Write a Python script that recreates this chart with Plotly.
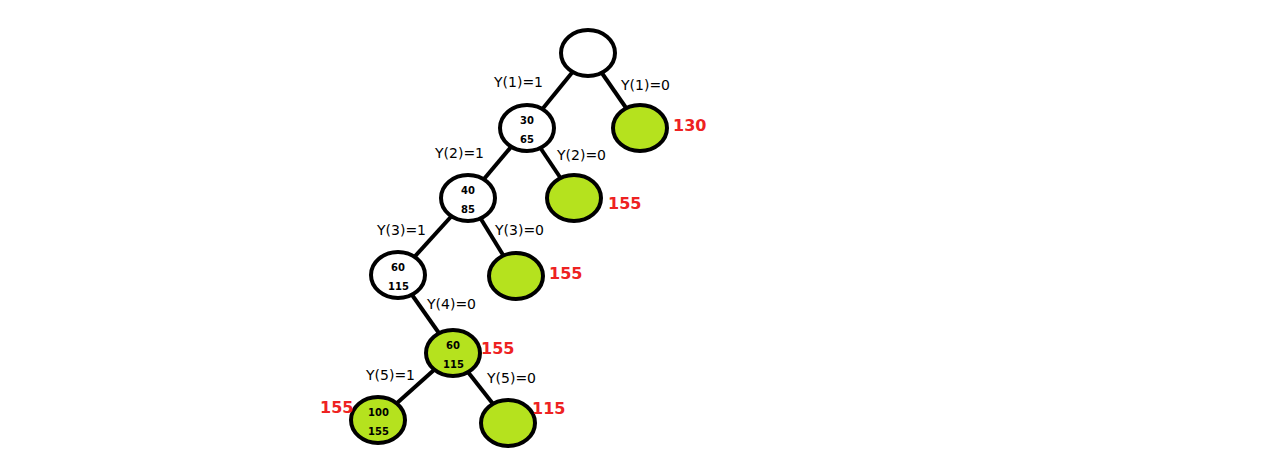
import plotly.graph_objects as go

# node centres (pixel-like coordinates), fill, inner labels
node_x = [580, 519, 632, 460, 566, 390, 508, 445, 370, 500]
node_y = [45, 120, 120, 190, 190, 267, 268, 345, 412, 415]
node_green = [False, False, True, False, True, False, True, True, True, True]
node_top = ["", "30", "", "40", "", "60", "", "60", "100", ""]
node_bot = ["", "65", "", "85", "", "115", "", "115", "155", ""]

edges = [(0, 1), (0, 2), (1, 3), (1, 4), (3, 5), (3, 6), (5, 7), (7, 8), (7, 9)]

edge_text = ["Y(1)=1", "Y(1)=0", "Y(2)=1", "Y(2)=0", "Y(3)=1", "Y(3)=0", "Y(4)=0", "Y(5)=1", "Y(5)=0"]
edge_tx = [510, 637, 451, 573, 393, 511, 443, 382, 503]
edge_ty = [74, 77, 145, 147, 222, 222, 296, 367, 370]

value_text = ["130", "155", "155", "155", "155", "115"]
value_x = [681, 616, 557, 489, 328, 540]
value_y = [117, 195, 265, 340, 399, 400]

RX, RY = 27, 23
GREEN = "#b5e21e"

fig = go.Figure()
shapes = []
for a, b in edges:
    shapes.append(dict(type="line", x0=node_x[a], y0=node_y[a], x1=node_x[b], y1=node_y[b],
                       line=dict(color="black", width=4), layer="above"))
for x, y, g in zip(node_x, node_y, node_green):
    shapes.append(dict(type="circle", x0=x - RX, x1=x + RX, y0=y - RY, y1=y + RY,
                       fillcolor=GREEN if g else "white", line=dict(color="black", width=4),
                       layer="above"))

ann = []
for x, y, t, b in zip(node_x, node_y, node_top, node_bot):
    if t:
        ann.append(dict(x=x, y=y - 8, text="<b>" + t + "</b>", showarrow=False,
                        font=dict(size=10, color="black", family="DejaVu Sans")))
        ann.append(dict(x=x, y=y + 11, text="<b>" + b + "</b>", showarrow=False,
                        font=dict(size=10, color="black", family="DejaVu Sans")))
for t, x, y in zip(edge_text, edge_tx, edge_ty):
    ann.append(dict(x=x, y=y, text=t, showarrow=False,
                    font=dict(size=14, color="black", family="DejaVu Sans")))
for t, x, y in zip(value_text, value_x, value_y):
    ann.append(dict(x=x, y=y, text="<b>" + t + "</b>", showarrow=False,
                    font=dict(size=16, color="#ee2222", family="DejaVu Sans")))

fig.update_layout(
    width=1271, height=460, margin=dict(l=0, r=0, t=0, b=0),
    plot_bgcolor="white", paper_bgcolor="white",
    shapes=shapes, annotations=ann, showlegend=False,
    xaxis=dict(range=[0, 1271], visible=False),
    yaxis=dict(range=[460, 0], visible=False),
)
fig.write_html("out.html")
